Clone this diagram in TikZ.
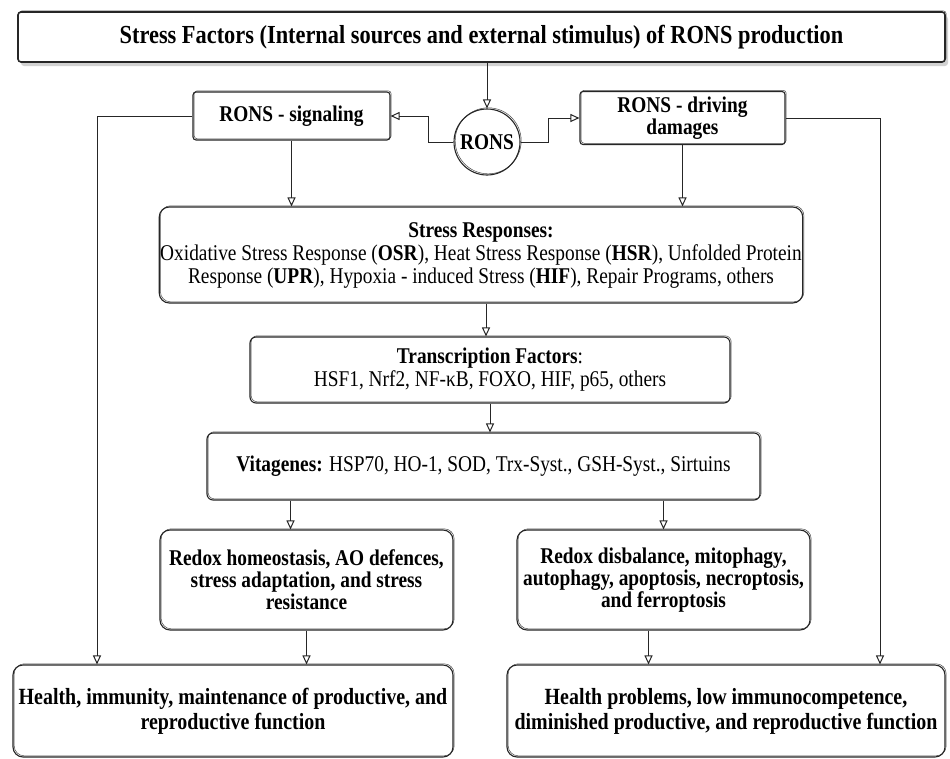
\documentclass[tikz,border=0pt]{standalone}
\usepackage{fontspec}
\setmainfont{Liberation Serif}[FakeStretch=0.86]
\usetikzlibrary{arrows.meta,shadows,calc}
\tikzset{
  sk/.style={draw=black!85, line width=1.1pt, rounded corners=6pt, align=center, inner sep=1pt,
    preaction={draw=black!70, line width=0.5pt, transform canvas={shift={(1.2pt,1.2pt)}}}},
  arr/.style={draw=black!85, line width=1pt, -{Triangle[open,length=9pt,width=8pt]}},
  bigtxt/.style={font=\fontsize{26}{28}\selectfont\bfseries},
  body/.style={font=\fontsize{22.5}{23}\selectfont},
  bbody/.style={font=\fontsize{22.5}{22}\selectfont\bfseries},
  lbody/.style={font=\fontsize{23.2}{25}\selectfont\bfseries},
}
\begin{document}
\begin{tikzpicture}[x=1pt,y=-1pt]
\useasboundingbox[fill=white] (0,0) rectangle (950,758);
\node[sk, bigtxt, line width=1.6pt, minimum width=927pt, minimum height=50pt, rounded corners=3pt,
  drop shadow={opacity=0.35, shadow xshift=3pt, shadow yshift=-4pt}, fill=white] (top) at (481.5,37)
  {Stress Factors (Internal sources and external stimulus) of RONS production};
\node[sk, circle, bbody, minimum size=66pt, inner sep=0pt] (rons) at (487,142) {RONS};
\node[sk, bbody, minimum width=197pt, minimum height=48pt, rounded corners=3pt] (sig) at (291.5,116) {RONS - signaling};
\node[sk, bbody, minimum width=205pt, minimum height=53pt, rounded corners=3pt] (dmg) at (682.5,118) {RONS - driving\\damages};
\node[sk, body, minimum width=640pt, minimum height=96pt, rounded corners=10pt] (sr) at (481,255)
  {\textbf{Stress Responses:}\\Oxidative Stress Response (\textbf{OSR}), Heat Stress Response (\textbf{HSR}), Unfolded Protein\\Response (\textbf{UPR}), Hypoxia - induced Stress (\textbf{HIF}), Repair Programs, others};
\node[sk, body, minimum width=480pt, minimum height=66pt, rounded corners=6pt] (tf) at (490,370)
  {\textbf{Transcription Factors}:\\HSF1, Nrf2, NF-κB, FOXO, HIF, p65, others};
\node[sk, body, minimum width=553pt, minimum height=67pt, rounded corners=6pt] (vit) at (483.5,466.5)
  {\textbf{Vitagenes:} HSP70, HO-1, SOD, Trx-Syst., GSH-Syst., Sirtuins};
\node[sk, bbody, minimum width=293pt, minimum height=100pt, rounded corners=10pt] (rh) at (306.5,580)
  {Redox homeostasis, AO defences,\\stress adaptation, and stress\\resistance};
\node[sk, bbody, minimum width=293pt, minimum height=100pt, rounded corners=10pt] (rd) at (663.5,580)
  {Redox disbalance, mitophagy,\\autophagy, apoptosis, necroptosis,\\and ferroptosis};
\node[sk, lbody, minimum width=440pt, minimum height=92pt, rounded corners=10pt] (hl) at (233,711)
  {Health, immunity, maintenance of productive, and\\reproductive function};
\node[sk, lbody, minimum width=438pt, minimum height=92pt, rounded corners=10pt] (hp) at (726,711)
  {Health problems, low immunocompetence,\\diminished productive, and reproductive function};
\coordinate (lcol) at (97,0);
\coordinate (rcol) at (880,0);
\draw[arr] (rons.north |- top.south) -- (rons.north);
\draw[arr] (rons.west) -- ++(-25,0) |- (sig.east);
\draw[arr] (rons.east) -- ++(28,0) |- (dmg.west);
\draw[arr] (sig.west) -| (lcol |- hl.north);
\draw[arr] (dmg.east) -| (rcol |- hp.north);
\draw[arr] (sig.south) -- (sig.south |- sr.north);
\draw[arr] (dmg.south) -- (dmg.south |- sr.north);
\draw[arr] ($(sr.south)+(5,0)$) -- ($(tf.north)+(-4,0)$);
\draw[arr] (tf.north |- tf.south) -- ($(vit.north)+(6.5,0)$);
\draw[arr] ($(vit.south -| rh.north)+(-16,0)$) -- ($(rh.north)+(-16,0)$);
\draw[arr] (rd.north |- vit.south) -- (rd.north);
\draw[arr] (rh.south) -- (rh.south |- hl.north);
\draw[arr] ($(rd.south)+(-15,0)$) -- ($(rd.south |- hp.north)+(-15,0)$);
\end{tikzpicture}
\end{document}
